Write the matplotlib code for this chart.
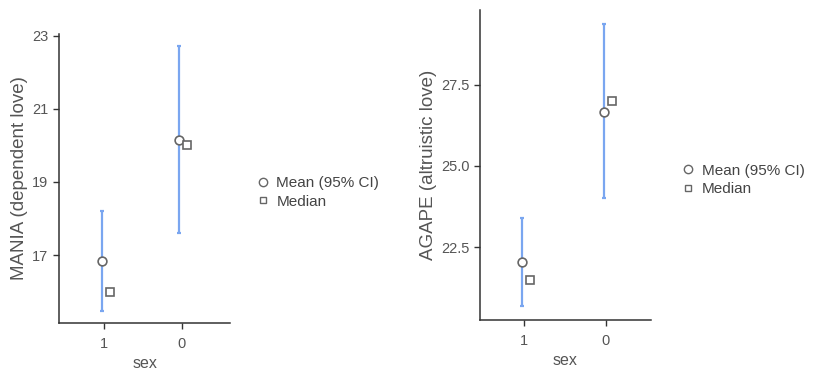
import numpy as np
import matplotlib
matplotlib.use("Agg")
import matplotlib.pyplot as plt
from matplotlib.lines import Line2D

plt.rcParams['font.family'] = ['Liberation Sans', 'DejaVu Sans']

# Data
groups = ['1', '0']
mania_mean = [16.84, 20.15]
mania_median = [16.0, 20.0]
mania_lo = [15.47, 17.61]
mania_hi = [18.2, 22.71]

agape_mean = [22.04, 26.67]
agape_median = [21.5, 27.0]
agape_lo = [20.7, 24.0]
agape_hi = [23.39, 29.37]

grey = '#333333'
tick_grey = '#555555'
blue = '#7aa6f0'

fig = plt.figure(figsize=(8.2, 3.78), dpi=100)
ax1 = fig.add_axes([0.072, 0.1455, 0.2085, 0.7645])
ax2 = fig.add_axes([0.585, 0.1534, 0.209, 0.8201])


def draw(ax, mean, median, lo, hi, ylabel, ylim, yticks, ytl, xlim):
    x = np.arange(len(groups))
    mean = np.array(mean)
    yerr = [mean - np.array(lo), np.array(hi) - mean]
    ax.errorbar(x - 0.03, mean, yerr=yerr, fmt='none', ecolor=blue,
                elinewidth=1.6, capsize=1.5, capthick=1.6, zorder=2)
    ax.plot(x - 0.03, mean, 'o', ms=6.3, mfc='white', mec='#666666', mew=1.2, zorder=3)
    ax.plot(x + 0.07, median, 's', ms=5.2, mfc='white', mec='#666666', mew=1.2, zorder=3)
    ax.set_xlim(*xlim)
    ax.set_ylim(*ylim)
    ax.set_xticks(x)
    ax.set_xticklabels(groups)
    ax.set_yticks(yticks)
    ax.set_yticklabels(ytl)
    ax.set_xlabel('sex', fontsize=11.5, color=tick_grey, labelpad=4)
    ax.set_ylabel(ylabel, fontsize=13.5, color=tick_grey, labelpad=3)
    for s in ['top', 'right']:
        ax.spines[s].set_visible(False)
    for s in ['left', 'bottom']:
        ax.spines[s].set_color(grey)
        ax.spines[s].set_linewidth(1.1)
    ax.tick_params(colors=grey, labelcolor=tick_grey, labelsize=10.5, length=4, width=1)
    ax.tick_params(axis='x', pad=6)


draw(ax1, mania_mean, mania_median, mania_lo, mania_hi, 'MANIA (dependent love)',
     (15.14, 23.05), [17, 19, 21, 23], ['17', '19', '21', '23'], (-0.58, 1.62))
draw(ax2, agape_mean, agape_median, agape_lo, agape_hi, 'AGAPE (altruistic love)',
     (20.26, 29.8), [22.5, 25.0, 27.5], ['22.5', '25.0', '27.5'], (-0.54, 1.55))

handles = [
    Line2D([], [], ls='none', marker='o', ms=6, mfc='white', mec='#666666', mew=1),
    Line2D([], [], ls='none', marker='s', ms=5, mfc='white', mec='#666666', mew=1),
]
labels = ['Mean (95% CI)', 'Median']
for bx, by in [(0.311, 0.491), (0.83, 0.524)]:
    fig.legend(handles, labels, loc='center left', bbox_to_anchor=(bx, by),
               frameon=False, fontsize=11, labelcolor='#444444',
               handletextpad=0.4, handlelength=1.0, labelspacing=0.3,
               borderaxespad=0, borderpad=0)

fig.savefig('out.png', dpi=100)
